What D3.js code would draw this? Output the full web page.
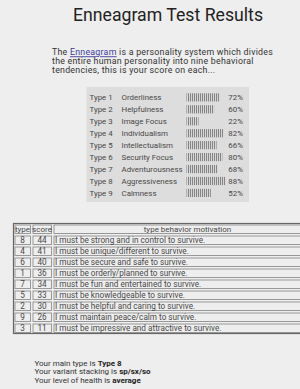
<!DOCTYPE html>
<html><head><meta charset="utf-8">
<script src="https://cdn.jsdelivr.net/npm/d3@7"></script>
<style>
html,body{margin:0;padding:0;background:#eeeeee;}
svg{display:block;}
text{font-family:Roboto,"Noto Sans",sans-serif;}
</style></head>
<body>
<svg id="c" width="300" height="389"></svg>
<script>
const typeLabels = ["Type 1","Type 2","Type 3","Type 4","Type 5","Type 6","Type 7","Type 8","Type 9"];
const typeNames = ["Orderliness","Helpfulness","Image Focus","Individualism","Intellectualism","Security Focus","Adventurousness","Aggressiveness","Calmness"];
const percents = [72,60,22,82,66,80,68,88,52];

const tableHeader = ["type","score","type behavior motivation"];
const tableTypes = [8,4,6,1,7,5,2,9,3];
const tableScores = [44,41,40,36,34,33,30,26,11];
const motivations = [
  "I must be strong and in control to survive.",
  "I must be unique/different to survive.",
  "I must be secure and safe to survive.",
  "I must be orderly/planned to survive.",
  "I must be fun and entertained to survive.",
  "I must be knowledgeable to survive.",
  "I must be helpful and caring to survive.",
  "I must maintain peace/calm to survive.",
  "I must be impressive and attractive to survive."
];
const mainType = "Type 8";
const stacking = "sp/sx/so";
const health = "average";

const svg = d3.select("#c");

// pattern for striped bars
const defs = svg.append("defs");
const pat = defs.append("pattern").attr("id","stripes").attr("patternUnits","userSpaceOnUse")
  .attr("width",2).attr("height",10);
pat.append("rect").attr("width",2).attr("height",10).attr("fill","#d6d6d6");
pat.append("rect").attr("width",1).attr("height",10).attr("fill","#858585");

// Title
svg.append("text").attr("x",168).attr("y",20.5).attr("text-anchor","middle")
  .attr("font-size",17.7).attr("fill","#222").text("Enneagram Test Results");

// Paragraph
const para = svg.append("g").attr("font-size",8.8).attr("letter-spacing",0.25).attr("fill","#333");
const l1 = para.append("text").attr("x",52).attr("y",55.3);
l1.append("tspan").text("The ");
l1.append("tspan").attr("fill","#3b3b9a").attr("text-decoration","underline").text("Enneagram");
l1.append("tspan").text(" is a personality system which divides");
para.append("text").attr("x",52).attr("y",64.3).text("the entire human personality into nine behavioral");
para.append("text").attr("x",52).attr("y",73.3).text("tendencies, this is your score on each...");

// Score box
const rowY = d3.scaleBand().domain(d3.range(typeLabels.length)).range([91.5,199]);
svg.append("rect").attr("x",86.5).attr("y",87).attr("width",162.5).attr("height",115).attr("fill","#dddddd");
const barX = d3.scaleLinear().domain([0,100]).range([0,41]);
const rows = svg.append("g").attr("font-size",7.9).attr("fill","#484848")
  .selectAll("g").data(percents).join("g")
  .attr("transform",(d,i)=>`translate(0,${rowY(i)+rowY.bandwidth()/2})`);
rows.append("text").attr("x",89.5).attr("y",2.8).text((d,i)=>typeLabels[i]);
rows.append("text").attr("x",121.5).attr("y",2.8).text((d,i)=>typeNames[i]);
rows.append("rect").attr("x",186.5).attr("y",-4.2).attr("height",8.2)
  .attr("width",d=>barX(d)+3).attr("fill","url(#stripes)");
rows.append("text").attr("x",228.3).attr("y",2.8).text(d=>d+"%");

// Table
const tX = [13.5,31.5,52.5,302];
const tTop = 223.5, rowH = 11;
const tRows = [tableHeader].concat(tableTypes.map((t,i)=>[String(t),String(tableScores[i]),motivations[i]]));
const yT = d3.scaleLinear().domain([0,tRows.length]).range([tTop,tTop+rowH*tRows.length]);
const tbl = svg.append("g");
tbl.append("rect").attr("x",tX[0]).attr("y",tTop).attr("width",tX[3]-tX[0]).attr("height",rowH*tRows.length)
  .attr("fill","none").attr("stroke","#666").attr("stroke-width",1.2);
tRows.forEach((r,ri)=>{
  r.forEach((cell,ci)=>{
    tbl.append("rect").attr("x",tX[ci]+1.5).attr("y",yT(ri)+1.5)
      .attr("width",tX[ci+1]-tX[ci]-2.5).attr("height",rowH-2.5)
      .attr("fill","none").attr("stroke","#8f8f8f").attr("stroke-width",0.9);
    const t = tbl.append("text").attr("font-size",ri===0?8.0:8.2).attr("fill","#484848")
      .attr("y",yT(ri)+rowH/2+3).text(cell);
    if (ri===0 || ci<2) t.attr("x",(ci===2&&ri===0)?187.5:(tX[ci]+tX[ci+1])/2).attr("text-anchor","middle");
    else t.attr("x",tX[2]+2.5);
  });
});

// Bottom summary
const bottom = svg.append("g").attr("font-size",8).attr("fill","#333");
const summary = [["Your main type is ",mainType],["Your variant stacking is ",stacking],["Your level of health is ",health]];
const yS = d3.scaleLinear().domain([0,2]).range([366,382.5]);
summary.forEach((s,i)=>{
  const t = bottom.append("text").attr("x",34.5).attr("y",yS(i));
  t.append("tspan").text(s[0]);
  t.append("tspan").attr("font-weight","bold").attr("fill","#222").text(s[1]);
});
</script>
</body></html>
